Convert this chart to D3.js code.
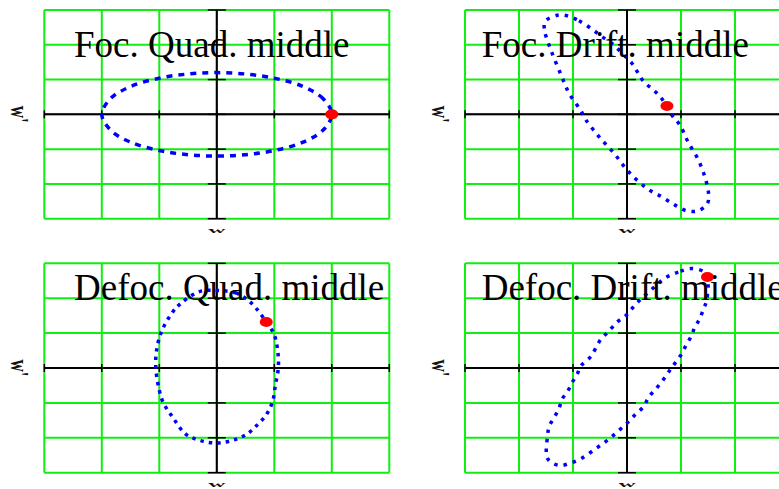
<!DOCTYPE html>
<html>
<head>
<meta charset="utf-8">
<script src="https://cdn.jsdelivr.net/npm/d3@7"></script>
<style>
  html, body { margin: 0; padding: 0; background: #ffffff; overflow: hidden; }
  svg { display: block; }
</style>
</head>
<body>
<svg id="chart" width="779" height="489"></svg>
<script>
// Phase-space ellipses (x, x') at the middle of each lattice element.
const titles = ["Foc. Quad. middle", "Foc. Drift. middle", "Defoc. Quad. middle", "Defoc. Drift. middle"];

const gridTicks = [-3, -2, -1, 0, 1, 2, 3];

const focQuadPts = [
  [2.0, 0], [1.85, 0.45], [1.5, 0.8], [1.0, 1.04], [0.5, 1.16], [0, 1.2], [-0.5, 1.16],
  [-1.0, 1.04], [-1.5, 0.8], [-1.85, 0.45], [-2.0, 0], [-1.85, -0.45], [-1.5, -0.8],
  [-1.0, -1.04], [-0.5, -1.16], [0, -1.2], [0.5, -1.16], [1.0, -1.04], [1.5, -0.8], [1.85, -0.45]
];
const focQuadMark = [2.0, 0];

const focDriftPts = [
  [-1.10, 2.83], [-0.89, 2.69], [-0.64, 2.44], [-0.46, 2.23], [-0.24, 1.99], [-0.09, 1.75],
  [0.09, 1.47], [0.20, 1.20], [0.31, 0.94], [0.49, 0.70], [0.64, 0.46], [0.83, -0.02],
  [0.98, -0.31], [1.13, -0.79], [1.32, -1.31], [1.44, -1.79], [1.51, -2.27], [1.49, -2.56],
  [1.32, -2.77], [1.10, -2.77], [0.89, -2.61], [0.64, -2.37], [0.37, -2.13], [0.03, -1.65],
  [-0.24, -1.12], [-0.52, -0.64], [-0.76, -0.16], [-0.86, 0.12], [-1.07, 0.60], [-1.22, 1.13],
  [-1.41, 1.85], [-1.52, 2.37], [-1.52, 2.66], [-1.29, 2.85]
];
const focDriftMark = [0.74, 0.24];

const defocQuadPts = [
  [0.02, 2.22], [0.33, 2.15], [0.53, 1.96], [0.68, 1.72], [0.86, 1.32], [1.0, 0.95],
  [1.06, 0.48], [1.07, 0], [1.02, -0.48], [0.97, -0.96], [0.86, -1.34], [0.68, -1.67],
  [0.51, -1.91], [0.28, -2.07], [-0.01, -2.15], [-0.28, -2.08], [-0.53, -1.91], [-0.76, -1.43],
  [-0.94, -0.96], [-1.02, -0.48], [-1.06, 0], [-1.05, 0.48], [-0.96, 1.05], [-0.76, 1.62],
  [-0.62, 1.86], [-0.30, 2.19]
];
const defocQuadMark = [0.86, 1.32];

const defocDriftPts = [
  [1.19, 2.85], [0.95, 2.75], [0.71, 2.58], [0.52, 2.34], [0.31, 2.05], [0.15, 1.81],
  [0, 1.53], [-0.18, 1.32], [-0.34, 1.05], [-0.49, 0.81], [-0.67, 0.33], [-0.86, 0.05],
  [-0.92, -0.17], [-1.01, -0.40], [-1.10, -0.67], [-1.21, -0.91], [-1.26, -1.17], [-1.35, -1.42],
  [-1.44, -1.67], [-1.47, -1.93], [-1.47, -2.60], [-1.26, -2.79], [-1.04, -2.72], [-0.83, -2.58],
  [-0.58, -2.31], [-0.37, -2.08], [-0.18, -1.83], [0, -1.58], [0.15, -1.34], [0.31, -1.10],
  [0.40, -0.84], [0.55, -0.57], [0.67, -0.34], [0.80, -0.05], [0.89, 0.14], [1.01, 0.40],
  [1.10, 0.67], [1.19, 0.91], [1.26, 1.19], [1.35, 1.41], [1.41, 1.67], [1.47, 1.91],
  [1.49, 2.61], [1.41, 2.77]
];
const defocDriftMark = [1.49, 2.61];

const xLabel = "w";
const yLabel = "w'";

// Panel frames on the page.
const panels = [
  { title: titles[0], pts: focQuadPts,   mark: focQuadMark,   left: 44.3, right: 389.3, top: 10,    bottom: 218.7, dash: "6 6",   tx: 74,    ty: 57 },
  { title: titles[1], pts: focDriftPts,  mark: focDriftMark,  left: 465,  right: 789,   top: 10,    bottom: 218.7, dash: "3.5 6", tx: 481.7, ty: 57 },
  { title: titles[2], pts: defocQuadPts, mark: defocQuadMark, left: 44.3, right: 389.3, top: 263.3, bottom: 472.7, dash: "3.5 5", tx: 74,    ty: 300 },
  { title: titles[3], pts: defocDriftPts,mark: defocDriftMark,left: 465,  right: 789,   top: 263.3, bottom: 472.7, dash: "3.5 6", tx: 481.7, ty: 300 }
];

const svg = d3.select("#chart");
const GREEN = "#11ee11";

panels.forEach(p => {
  const x = d3.scaleLinear().domain([-3, 3]).range([p.left, p.right]);
  const y = d3.scaleLinear().domain([-3, 3]).range([p.bottom, p.top]);
  const g = svg.append("g");

  // green grid
  g.selectAll("line.v").data(gridTicks).join("line")
    .attr("x1", d => x(d)).attr("x2", d => x(d))
    .attr("y1", y(-3)).attr("y2", y(3))
    .attr("stroke", GREEN).attr("stroke-width", 2);
  g.selectAll("line.h").data(gridTicks).join("line")
    .attr("class", "h")
    .attr("x1", x(-3)).attr("x2", x(3))
    .attr("y1", d => y(d)).attr("y2", d => y(d))
    .attr("stroke", GREEN).attr("stroke-width", 2);

  // black axes through the origin
  g.append("line")
    .attr("x1", x(-3)).attr("x2", x(3))
    .attr("y1", y(0)).attr("y2", y(0))
    .attr("stroke", "#000").attr("stroke-width", 2);
  g.append("line")
    .attr("x1", x(0)).attr("x2", x(0))
    .attr("y1", y(-3)).attr("y2", y(3))
    .attr("stroke", "#000").attr("stroke-width", 2);

  // tick marks on the axes
  g.selectAll("line.xt").data(gridTicks).join("line")
    .attr("x1", d => x(d)).attr("x2", d => x(d))
    .attr("y1", y(0) - 4).attr("y2", y(0) + 4)
    .attr("stroke", "#000").attr("stroke-width", 1.5);
  g.selectAll("line.yt").data(gridTicks).join("line")
    .attr("x1", x(0) - 9).attr("x2", x(0) + 9)
    .attr("y1", d => y(d)).attr("y2", d => y(d))
    .attr("stroke", "#000").attr("stroke-width", 1.5);

  // ellipse drawn as a dotted closed curve
  const line = d3.line()
    .x(d => x(d[0])).y(d => y(d[1]))
    .curve(d3.curveCatmullRomClosed.alpha(0.5));
  g.append("path")
    .attr("d", line(p.pts))
    .attr("fill", "none")
    .attr("stroke", "#0000ff")
    .attr("stroke-width", 3.5)
    .attr("stroke-dasharray", p.dash);

  // current particle position
  g.append("ellipse")
    .attr("cx", x(p.mark[0])).attr("cy", y(p.mark[1]))
    .attr("rx", 6.5).attr("ry", 5)
    .attr("fill", "#ff0000");

  // axis labels
  g.append("text")
    .attr("transform", `translate(${x(0)},${p.bottom + 14}) scale(1.4,0.5)`)
    .attr("text-anchor", "middle")
    .attr("font-family", "Liberation Serif, serif")
    .attr("font-size", 17)
    .attr("font-weight", "bold")
    .attr("fill", "#111")
    .text(xLabel);
  g.append("text")
    .attr("transform", `translate(${p.left - 33},${y(0)}) rotate(90) scale(1.0,1.5)`)
    .attr("text-anchor", "middle")
    .attr("font-family", "Liberation Serif, serif")
    .attr("font-size", 17)
    .attr("font-weight", "bold")
    .attr("fill", "#111")
    .text(yLabel);

  // panel title
  g.append("text")
    .attr("x", p.tx).attr("y", p.ty)
    .attr("font-family", "Liberation Serif, 'Times New Roman', serif")
    .attr("font-size", 37)
    .attr("fill", "#000")
    .text(p.title);
});
</script>
</body>
</html>
